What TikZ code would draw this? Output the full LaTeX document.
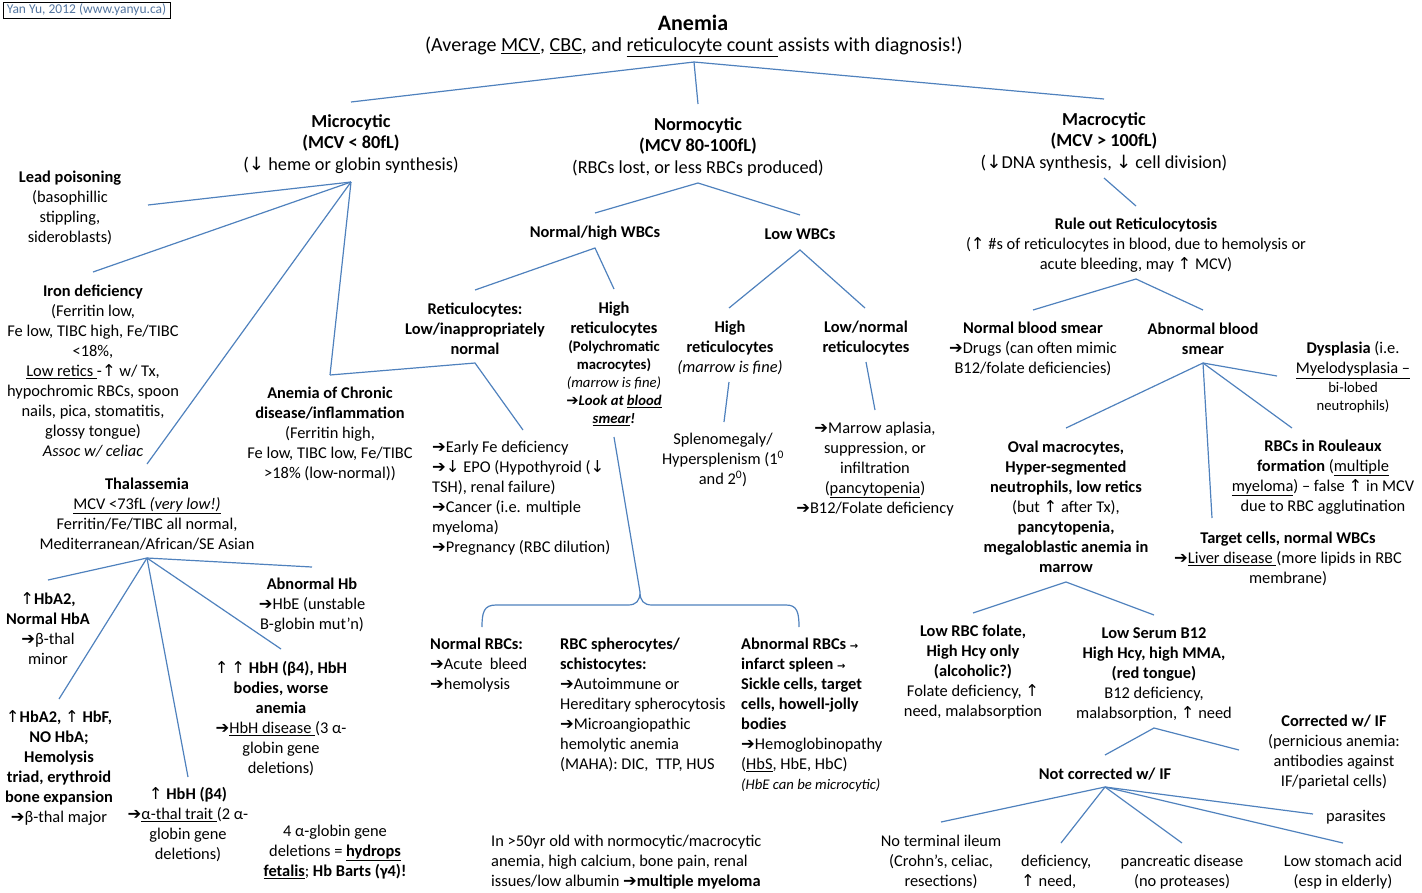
\documentclass[tikz,border=0pt]{standalone}
\usepackage{fontspec}
\setmainfont{Carlito}
\newfontfamily\arrowfont{DejaVu Sans}
\usetikzlibrary{calc}

\definecolor{linkblue}{RGB}{79,129,189}
\definecolor{tagtext}{RGB}{84,118,160}

\newcommand{\rarr}{{\arrowfont ➔}}
\newcommand{\smrarr}{{\arrowfont\bfseries\fontsize{10}{10}\selectfont →}}
\newcommand{\uarr}{{\arrowfont\mdseries ↑}}
\newcommand{\darr}{{\arrowfont\mdseries ↓}}

\begin{document}
\begin{tikzpicture}[x=1pt,y=-1pt,
  txt/.style={inner sep=0pt, align=center, font=\fontsize{16.4}{20}\selectfont},
  hd/.style={txt, font=\fontsize{18.3}{21.5}\selectfont},
  sm/.style={txt, font=\fontsize{14.7}{18}\selectfont},
  lft/.style={txt, align=left, anchor=west},
  link/.style={draw=linkblue, line width=1.2pt}
]
\useasboundingbox (0,0) rectangle (1422,892);

\node[draw, line width=0.8pt, inner sep=0pt, minimum width=167pt, minimum height=16pt,
  text=tagtext, font=\fontsize{13.5}{15}\selectfont] (tag) at (86.5,10) {Yan Yu, 2012 (www.yanyu.ca)};

% top
\node[txt, font=\fontsize{22}{26}\selectfont\bfseries] (title) at (693,23) {Anemia};
\node[txt, font=\fontsize{20}{22}\selectfont] (subtitle) at (694,47)
  {(Average \underline{MCV}, \underline{CBC}, and \underline{reticulocyte count }assists with diagnosis!)};

\node[hd] (micro) at (351,144) {\textbf{Microcytic}\\\textbf{(MCV < 80fL)}\\(\darr{} heme or globin synthesis)};
\node[hd] (normo) at (698,147) {\textbf{Normocytic}\\\textbf{(MCV 80-100fL)}\\(RBCs lost, or less RBCs produced)};
\node[hd] (macro) at (1104,142) {\textbf{Macrocytic}\\\textbf{(MCV > 100fL)}\\(\darr DNA synthesis, \darr{} cell division)};

% microcytic
\node[txt] (lead) at (70,207.5) {\textbf{Lead poisoning}\\(basophillic\\stippling,\\sideroblasts)};
\node[txt] (iron) at (93,371) {\textbf{Iron deficiency}\\(Ferritin low,\\Fe low, TIBC high, Fe/TIBC\\<18\%,\\\underline{Low retics }-\uarr{} w/ Tx,\\hypochromic RBCs, spoon\\nails, pica, stomatitis,\\glossy tongue)\\\textit{Assoc w/ celiac}};
\node[txt] (thal) at (147,514) {\textbf{Thalassemia}\\\underline{MCV <73fL \textit{(very low!)}}\\Ferritin/Fe/TIBC all normal,\\Mediterranean/African/SE Asian};
\node[txt] (acd) at (330,434) {\textbf{Anemia of Chronic}\\\textbf{disease/inflammation}\\(Ferritin high,\\Fe low, TIBC low, Fe/TIBC\\>18\% (low-normal))};

\node[txt] (hba2) at (48,629) {\uarr\textbf{HbA2,}\\\textbf{Normal HbA}\\\rarr β-thal\\minor};
\node[txt] (hbf) at (59,768) {\uarr\textbf{HbA2, }\uarr\textbf{ HbF,}\\\textbf{NO HbA;}\\\textbf{Hemolysis}\\\textbf{triad, erythroid}\\\textbf{bone expansion}\\\rarr β-thal major};
\node[txt] (hbhone) at (188,824.5) {\uarr\textbf{ HbH (β4)}\\\rarr\underline{α-thal trait }(2 α-\\globin gene\\deletions)};
\node[txt] (hbhtwo) at (281,718.5) {\uarr\,\uarr\textbf{ HbH (β4), HbH}\\\textbf{bodies, worse}\\\textbf{anemia}\\\rarr\underline{HbH disease }(3 α-\\globin gene\\deletions)};
\node[txt] (abnhb) at (312,605) {\textbf{Abnormal Hb}\\\rarr HbE (unstable\\B-globin mut’n)};
\node[txt] (hydrops) at (335,852) {4 α-globin gene\\deletions = \textbf{\underline{hydrops}}\\\textbf{\underline{fetalis}}; \textbf{Hb Barts (γ4)!}};

% normocytic
\node[txt] (normhigh) at (595,233) {\textbf{Normal/high WBCs}};
\node[txt] (lowwbc) at (800,234) {\textbf{Low WBCs}};
\node[txt] (reticlow) at (475,329) {\textbf{Reticulocytes:}\\\textbf{Low/inappropriately}\\\textbf{normal}};
\node[sm] (highretone) at (614,363.5) {{\fontsize{16.4}{20}\selectfont\textbf{High}}\\[2pt]{\fontsize{16.4}{20}\selectfont\textbf{reticulocytes}}\\\textbf{(Polychromatic}\\\textbf{macrocytes)}\\\textit{(marrow is fine)}\\\textbf{\textit{\rarr Look at \underline{blood}}}\\\textbf{\textit{\underline{smear}!}}};
\node[txt] (highrettwo) at (730,348) {\textbf{High}\\\textbf{reticulocytes}\\\textit{(marrow is fine)}};
\node[txt] (lownorm) at (866,338) {\textbf{Low/normal}\\\textbf{reticulocytes}};
\node[txt] (spleno) at (723,460) {Splenomegaly/\\Hypersplenism (1\textsuperscript{0}\\and 2\textsuperscript{0})};
\node[txt] (marrow) at (875,469) {\rarr Marrow aplasia,\\suppression, or\\infiltration\\(\underline{pancytopenia})\\\rarr B12/Folate deficiency};
\node[lft] (earlyfe) at (432,498.5) {\rarr Early Fe deficiency\\\rarr\darr{} EPO (Hypothyroid (\darr\\TSH), renal failure)\\\rarr Cancer (i.e. multiple\\myeloma)\\\rarr Pregnancy (RBC dilution)};

\node[lft] (normrbc) at (430,665) {\textbf{Normal RBCs:}\\\rarr Acute\ \ bleed\\\rarr hemolysis};
\node[lft] (sphero) at (560,705) {\textbf{RBC spherocytes/}\\\textbf{schistocytes:}\\\rarr Autoimmune or\\Hereditary spherocytosis\\\rarr Microangiopathic\\hemolytic anemia\\(MAHA): DIC,\ \ TTP, HUS};
\node[lft] (abnrbc) at (741,715) {\textbf{Abnormal RBCs} \smrarr\\\textbf{infarct spleen} \smrarr\\\textbf{Sickle cells, target}\\\textbf{cells, howell-jolly}\\\textbf{bodies}\\\rarr Hemoglobinopathy\\(\underline{HbS}, HbE, HbC)\\{\fontsize{14.7}{20}\selectfont\textit{(HbE can be microcytic)}}};
\node[lft] (myeloma) at (491,862.5) {In >50yr old with normocytic/macrocytic\\anemia, high calcium, bone pain, renal\\issues/low albumin \rarr\textbf{multiple myeloma}};

% macrocytic
\node[txt] (ruleout) at (1136,245) {\textbf{Rule out Reticulocytosis}\\(\uarr{} \#s of reticulocytes in blood, due to hemolysis or\\acute bleeding, may \uarr{} MCV)};
\node[txt] (normsmear) at (1033,349) {\textbf{Normal blood smear}\\\rarr Drugs (can often mimic\\B12/folate deficiencies)};
\node[txt] (abnsmear) at (1203,339) {\textbf{Abnormal blood}\\\textbf{smear}};
\node[sm] (dysplasia) at (1353,377.5) {{\fontsize{16.4}{20}\selectfont\textbf{Dysplasia} (i.e.}\\[2pt]{\fontsize{16.4}{20}\selectfont\underline{Myelodysplasia –}}\\[1pt]bi-lobed\\neutrophils)};
\node[txt] (oval) at (1066,507) {\textbf{Oval macrocytes,}\\\textbf{Hyper-segmented}\\\textbf{neutrophils, low retics}\\(but \uarr{} after Tx),\\\textbf{pancytopenia,}\\\textbf{megaloblastic anemia in}\\\textbf{marrow}};
\node[txt] (rouleaux) at (1323,477) {\textbf{RBCs in Rouleaux}\\\textbf{formation} (\underline{multiple}\\\underline{myeloma}) – false \uarr{} in MCV\\due to RBC agglutination};
\node[txt] (target) at (1288,559) {\textbf{Target cells, normal WBCs}\\\rarr\underline{Liver disease }(more lipids in RBC\\membrane)};
\node[txt] (folate) at (973,672) {\textbf{Low RBC folate,}\\\textbf{High Hcy only}\\\textbf{(alcoholic?)}\\Folate deficiency, \uarr\\need, malabsorption};
\node[txt] (btwelve) at (1154,674) {\textbf{Low Serum B12}\\\textbf{High Hcy, high MMA,}\\\textbf{(red tongue)}\\B12 deficiency,\\malabsorption, \uarr{} need};
\node[txt] (corrected) at (1334,752) {\textbf{Corrected w/ IF}\\(pernicious anemia:\\antibodies against\\IF/parietal cells)};
\node[txt] (notcorr) at (1105,774) {\textbf{Not corrected w/ IF}};
\node[txt] (ileum) at (941,862) {No terminal ileum\\(Crohn's, celiac,\\resections)};
\node[lft] (deficiency) at (1021,872) {deficiency,\\\uarr{} need,};
\node[txt] (pancreatic) at (1182,872) {pancreatic disease\\(no proteases)};
\node[txt] (stomach) at (1343,872) {Low stomach acid\\(esp in elderly)};
\node[txt] (parasites) at (1356,817) {parasites};

% brace over the RBC types
\draw[link] (482,627) .. controls (482,612) and (484,605) .. (496,605) -- (628,605)
  .. controls (636,605) and (640,601) .. (640,592)
  .. controls (640,601) and (644,605) .. (652,605) -- (786,605)
  .. controls (797,605) and (799,612) .. (799,627);
\coordinate (bracetip) at (640,592);

% connectors
\draw[link] ($(micro)+(0,-42)$) -- ($(subtitle)+(0,15)$) -- ($(macro)+(0,-43)$);
\draw[link] ($(subtitle)+(0,15)$) -- ($(normo)+(0,-43)$);

\draw[link] ($(micro)+(0,38)$) -- ($(lead)+(78,-2.5)$);
\draw[link] ($(micro)+(0,38)$) -- ($(iron)+(0,-99)$);
\draw[link] ($(micro)+(0,38)$) -- ($(thal)+(0,-50)$);
\draw[link] ($(micro)+(0,38)$) -- ($(acd)+(0,-59)$);

\draw[link] ($(thal)+(0,44)$) -- ($(hba2)+(0,-49)$);
\draw[link] ($(thal)+(0,44)$) -- ($(hbf)+(0,-69)$);
\draw[link] ($(thal)+(0,44)$) -- ($(hbhone)+(0,-47.5)$);
\draw[link] ($(thal)+(0,44)$) -- ($(hbhtwo)+(0,-69.5)$);
\draw[link] ($(thal)+(0,44)$) -- ($(abnhb)+(0,-38)$);

\draw[link] ($(normhigh)+(0,-20)$) -- ($(normo)+(0,36)$) -- ($(lowwbc)+(0,-19)$);
\draw[link] ($(reticlow)+(0,-39)$) -- ($(normhigh)+(0,15)$) -- ($(highretone)+(0,-74.5)$);
\draw[link] ($(highrettwo)+(-1,-40)$) -- ($(lowwbc)+(0,16)$) -- ($(lownorm)+(-1,-30)$);
\draw[link] ($(acd)+(0,-59)$) -- ($(reticlow)+(0,34)$) -- ($(earlyfe.west)+(91,-68.5)$);
\draw[link] ($(highretone)+(0,73.5)$) -- (bracetip);
\draw[link] ($(highrettwo)+(-1,34)$) -- ($(spleno)+(1,-38)$);
\draw[link] ($(lownorm)+(0,24)$) -- ($(marrow)+(0,-59)$);

\draw[link] ($(macro)+(0,36)$) -- ($(ruleout)+(0,-39)$);
\draw[link] ($(normsmear)+(0,-39)$) -- ($(ruleout)+(0,34)$) -- ($(abnsmear)+(0,-29)$);
\draw[link] ($(abnsmear)+(0,24)$) -- ($(dysplasia)+(-76,-1.5)$);
\draw[link] ($(abnsmear)+(0,24)$) -- ($(rouleaux)+(-31,-49)$);
\draw[link] ($(abnsmear)+(0,24)$) -- ($(target)+(-76,-41)$);
\draw[link] ($(abnsmear)+(0,24)$) -- ($(oval)+(0,-79)$);
\draw[link] ($(folate)+(0,-59)$) -- ($(oval)+(0,75)$) -- ($(btwelve)+(0,-59)$);
\draw[link] ($(notcorr)+(0,-19)$) -- ($(btwelve)+(0,54)$) -- ($(corrected)+(-95,-2)$);
\draw[link] ($(notcorr)+(0,13)$) -- ($(ileum)+(0,-40)$);
\draw[link] ($(notcorr)+(0,13)$) -- ($(deficiency.west)+(40,-29)$);
\draw[link] ($(notcorr)+(0,13)$) -- ($(pancreatic)+(0,-29)$);
\draw[link] ($(notcorr)+(0,13)$) -- ($(stomach)+(0,-29)$);
\draw[link] ($(notcorr)+(0,13)$) -- ($(parasites)+(-43,-3)$);
\end{tikzpicture}
\end{document}
